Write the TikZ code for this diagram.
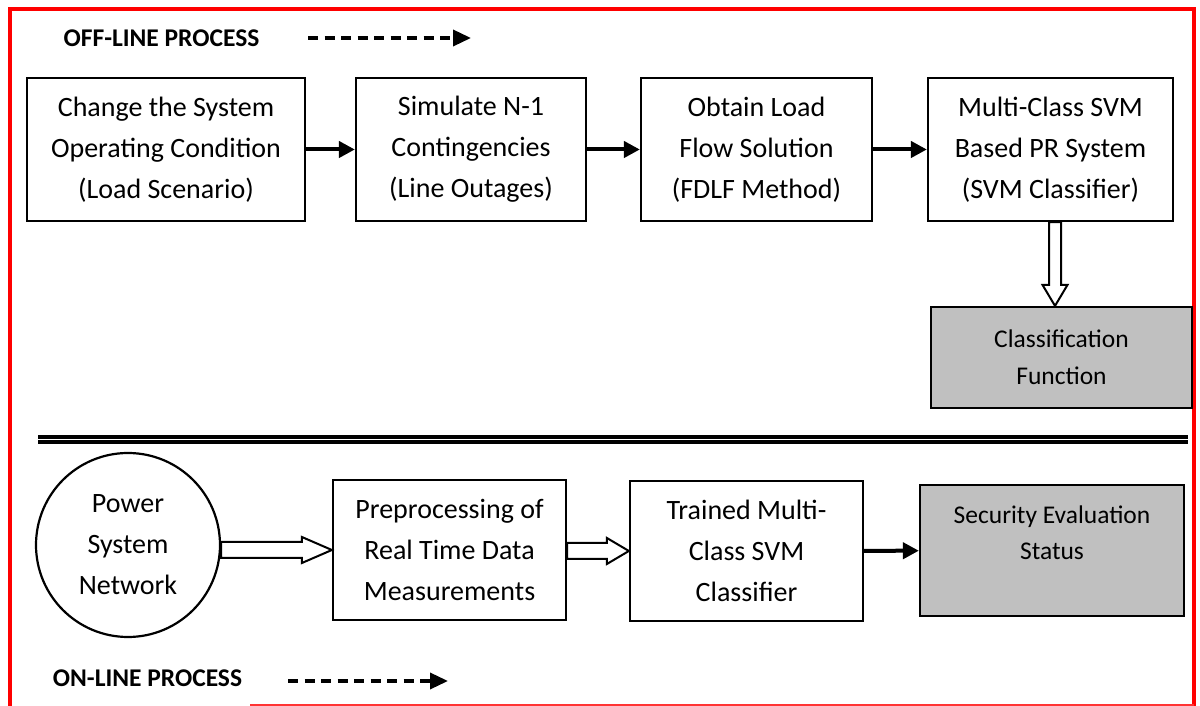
\documentclass[tikz,border=0pt]{standalone}
\usepackage{fontspec}
\setmainfont{Carlito}
\usetikzlibrary{arrows.meta,calc}
\definecolor{framered}{HTML}{FF0000}
\definecolor{boxgray}{HTML}{C0C0C0}

% wide white arrows between blocks
\newcommand{\hollowright}[3][26]{%
  \draw[hollow] let \p1=(#2), \p2=(#3) in
    (\x1,\y2+8pt) -- (\x2-#1pt,\y2+8pt) -- (\x2-#1pt,\y2+13pt) -- (\x2,\y2)
    -- (\x2-#1pt,\y2-13pt) -- (\x2-#1pt,\y2-8pt) -- (\x1,\y2-8pt) -- cycle;}
\newcommand{\hollowdown}[2]{%
  \draw[hollow] let \p1=(#1), \p2=(#2) in
    (\x1-6pt,\y1) -- (\x1-6pt,\y2+21pt) -- (\x1-12.5pt,\y2+21pt) -- (\x1,\y2)
    -- (\x1+12.5pt,\y2+21pt) -- (\x1+6pt,\y2+21pt) -- (\x1+6pt,\y1) -- cycle;}

\begin{document}
\begin{tikzpicture}[x=1pt,y=1pt,
  box/.style={draw,line width=2.2pt,fill=white,align=center,minimum height=143,
    font=\fontsize{28}{41}\selectfont},
  graybox/.style={box,fill=boxgray,font=\fontsize{25.5}{37}\selectfont},
  flowarrow/.style={line width=4pt,-{Triangle[length=16pt,width=16pt]}},
  dasharrow/.style={line width=3.5pt,dash pattern=on 10pt off 6.5pt,-{Triangle[length=18pt,width=16pt]}},
  hollow/.style={draw,line width=2pt,fill=white,line join=miter},
  title/.style={font=\fontsize{25.5}{28}\bfseries\selectfont}]
  \useasboundingbox (0,0) rectangle (1200,706);
  \fill[white] (0,0) rectangle (1200,706);
  % frame
  \draw[framered,line width=3.5pt] (10,0) -- (10,697) -- (1194,697) -- (1194,0);
  \draw[framered!80,line width=1.5pt] (250,1) -- (1194,1);

  % off-line part
  \node[title] (offlbl) at (161.5,668) {OFF-LINE PROCESS};
  \coordinate (offa) at (308,668);
  \coordinate (offb) at (471,668);
  \draw[dasharrow] (offa) -- (offb);
  \node[box,minimum width=278] (cond) at (166,556.5) {Change the System\\Operating Condition\\(Load Scenario)};
  \node[box,minimum width=230] (sim) at (471,556.5) {Simulate N-1\\Contingencies\\(Line Outages)};
  \node[box,minimum width=231] (lflow) at (756.5,556.5) {Obtain Load\\Flow Solution\\(FDLF Method)};
  \node[box,minimum width=245] (svm) at (1050.5,556.5) {Multi-Class SVM\\Based PR System\\(SVM Classifier)};
  \node[graybox,minimum width=261,minimum height=101] (cls) at (1061.5,348.5) {Classification\\Function};
  \draw[flowarrow] (cond) -- (sim);
  \draw[flowarrow] (sim) -- (lflow);
  \draw[flowarrow] (lflow) -- (svm);
  \hollowdown{$(svm.south)+(4.5,0)$}{cls.north}

  % separator
  \draw[line width=4pt] (38,269) -- (1188,269);
  \draw[line width=4pt] (38,264) -- (1188,264);

  % on-line part
  \node[draw,circle,line width=2.2pt,minimum size=184,inner sep=0pt,align=center,
    font=\fontsize{28}{41}\selectfont] (power) at (128,161) {Power\\System\\Network};
  \node[box,minimum width=233,minimum height=140] (prep) at (449.5,156) {Preprocessing of\\Real Time Data\\Measurements};
  \node[box,minimum width=233,minimum height=140] (trained) at (746.5,155) {Trained Multi-\\Class SVM\\Classifier};
  \node[graybox,minimum width=264,minimum height=131,font=\fontsize{25.5}{36}\selectfont] (status) at (1052,155.5) {Security Evaluation\\Status\\\phantom{S}};
  \hollowright[30]{power.east}{prep.west}
  \hollowright[22]{prep.east}{trained.west}
  \draw[flowarrow] (trained) -- (status);

  \node[title] (onlbl) at (147.5,28) {ON-LINE PROCESS};
  \coordinate (ona) at (288,25);
  \coordinate (onb) at (448,25);
  \draw[dasharrow] (ona) -- (onb);
\end{tikzpicture}
\end{document}
